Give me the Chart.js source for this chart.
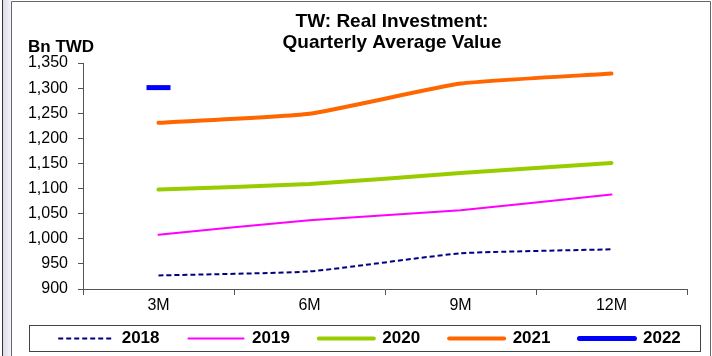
<!DOCTYPE html>
<html>
<head>
<meta charset="utf-8">
<script src="https://cdn.jsdelivr.net/npm/chart.js@4.4.1/dist/chart.umd.min.js"></script>
<style>
    html, body { margin: 0; padding: 0; background: #fff; }
    #wrap { width: 712px; height: 356px; }
</style>
</head>
<body>
<div id="wrap"><canvas id="grafico"></canvas></div>
<script>
const quarters = ["3M", "6M", "9M", "12M"];
const years = ["2018", "2019", "2020", "2021", "2022"];

const inv2018 = [927, 935, 971, 979];
const inv2019 = [1008, 1037, 1057, 1088];
const inv2020 = [1098, 1109, 1131, 1151];
const inv2021 = [1231, 1249, 1309, 1329];
const inv2022 = [1301, null, null, null];

const titleLines = ["TW: Real Investment:", "Quarterly Average Value"];
const unitLabel = "Bn TWD";

const fontFamily = "'Liberation Sans', Arial, sans-serif";

// legend keeps its wide item spacing, so lift it closer to the axis labels
const legendLift = 16;

// frames, title and unit label drawn straight on the canvas
const decorPlugin = {
    id: "decor",
    afterLayout(chart) {
        if (chart.legend) {
            chart.legend.top -= legendLift;
        }
    },
    beforeDraw(chart) {
        const ctx = chart.ctx;
        ctx.save();
        ctx.fillStyle = "#fff";
        ctx.fillRect(0, 0, chart.width, chart.height);
        // left strip
        const grad = ctx.createLinearGradient(3, 0, 11, 0);
        grad.addColorStop(0, "#dcdcec");
        grad.addColorStop(1, "#f4f4fa");
        ctx.fillStyle = grad;
        ctx.fillRect(3, 0, 8, chart.height);
        ctx.strokeStyle = "#333";
        ctx.lineWidth = 1;
        ctx.beginPath();
        ctx.moveTo(2.5, 0);
        ctx.lineTo(2.5, chart.height);
        ctx.stroke();
        ctx.strokeStyle = "#666";
        ctx.beginPath();
        ctx.moveTo(11.5, chart.height);
        ctx.lineTo(11.5, 1.5);
        ctx.lineTo(710.5, 1.5);
        ctx.lineTo(710.5, chart.height);
        ctx.stroke();
        ctx.restore();
    },
    afterDraw(chart) {
        const ctx = chart.ctx;
        ctx.save();
        ctx.fillStyle = "#000";
        ctx.font = "bold 19px " + fontFamily;
        ctx.textAlign = "center";
        ctx.textBaseline = "middle";
        ctx.fillText(titleLines[0], 392, 22);
        ctx.fillText(titleLines[1], 392, 43);
        ctx.font = "bold 17px " + fontFamily;
        ctx.textAlign = "left";
        ctx.fillText(unitLabel, 28, 47);
        // box round the legend
        ctx.strokeStyle = "#444";
        ctx.lineWidth = 1;
        ctx.strokeRect(29.5, 325.5, 671, 26);
        ctx.restore();
    },
};

const datasets = [
    {
        label: years[0],
        data: inv2018,
        borderColor: "#000080",
        backgroundColor: "#000080",
        borderWidth: 2,
        borderDash: [5, 3],
    },
    {
        label: years[1],
        data: inv2019,
        borderColor: "#ff00ff",
        backgroundColor: "#ff00ff",
        borderWidth: 2,
        borderCapStyle: "round",
    },
    {
        label: years[2],
        data: inv2020,
        borderColor: "#99cc00",
        backgroundColor: "#99cc00",
        borderWidth: 4,
        borderCapStyle: "round",
    },
    {
        label: years[3],
        data: inv2021,
        borderColor: "#ff6600",
        backgroundColor: "#ff6600",
        borderWidth: 4,
        borderCapStyle: "round",
    },
    {
        label: years[4],
        data: inv2022,
        borderColor: "#0000ff",
        backgroundColor: "#0000ff",
        borderWidth: 5,
        borderCapStyle: "round",
        pointStyle: "line",
        pointRadius: 12,
        pointBorderWidth: 5,
        pointHoverRadius: 12,
    },
];

datasets.forEach((ds) => {
    ds.tension = 0.15;
    ds.fill = false;
    if (ds.pointStyle === undefined) {
        ds.pointRadius = 0;
        ds.pointHoverRadius = 0;
    }
});

// legend lines take the dash and cap of their dataset
function legendLabels(chart) {
    const items = Chart.defaults.plugins.legend.labels.generateLabels(chart);
    items.forEach((item) => {
        const ds = chart.data.datasets[item.datasetIndex];
        item.lineDash = ds.borderDash || [];
        item.lineCap = ds.borderCapStyle || "butt";
        item.lineWidth = ds.borderWidth;
    });
    return items;
}

const options = {
    responsive: true,
    maintainAspectRatio: false,
    animation: false,
    layout: {
        padding: { top: 63, left: 27, right: 0, bottom: 0 },
    },
    scales: {
        x: {
            offset: true,
            grid: {
                offset: true,
                drawOnChartArea: false,
                tickLength: 6,
                color: "#555",
            },
            border: { color: "#555" },
            ticks: {
                color: "#000",
                padding: 3,
                font: { family: fontFamily, size: 16, lineHeight: 1 },
            },
        },
        y: {
            min: 900,
            max: 1350,
            grid: {
                drawOnChartArea: false,
                tickLength: 5,
                color: "#555",
            },
            border: { color: "#555" },
            ticks: {
                stepSize: 50,
                autoSkip: false,
                color: "#000",
                padding: 10,
                font: { family: fontFamily, size: 16 },
            },
            afterFit: (scale) => {
                scale.width = 56;
            },
        },
        yRight: {
            position: "right",
            grid: { display: false },
            border: { display: false },
            ticks: { display: false },
            afterFit: (scale) => {
                scale.width = 25;
            },
        },
    },
    plugins: {
        title: { display: false },
        tooltip: { enabled: false },
        legend: {
            position: "bottom",
            maxHeight: 39,
            labels: {
                usePointStyle: true,
                pointStyle: "line",
                pointStyleWidth: 55,
                boxHeight: 16,
                padding: 29,
                color: "#000",
                font: { family: fontFamily, size: 17, weight: "bold" },
                generateLabels: legendLabels,
            },
        },
    },
};

new Chart(document.getElementById("grafico"), {
    type: "line",
    data: { labels: quarters, datasets: datasets },
    options: options,
    plugins: [decorPlugin],
});
</script>
</body>
</html>
